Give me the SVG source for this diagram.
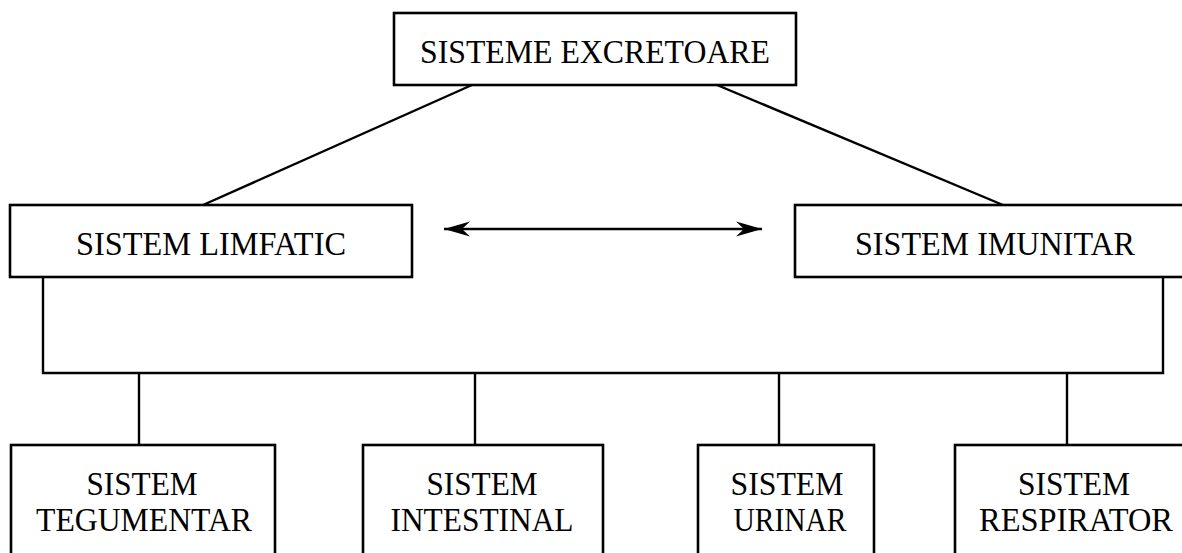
<svg xmlns="http://www.w3.org/2000/svg" width="1182" height="553" viewBox="0 0 1182 553">
  <style>
    .box { fill: #ffffff; stroke: #000000; stroke-width: 2.6; }
    .lbl { font-family: "Liberation Serif", "Times New Roman", serif; font-size: 33px; fill: #000000; text-anchor: middle; }
    .conn { stroke: #000000; stroke-width: 2.4; fill: none; }
  </style>
  <defs>
    <marker id="arrowEnd" viewBox="0 0 26 18" refX="26" refY="9" markerWidth="26" markerHeight="18" markerUnits="userSpaceOnUse" orient="auto">
      <path d="M0,1.5 L26,9 L0,16.5 L8,9 Z" fill="#000000"/>
    </marker>
    <marker id="arrowStart" viewBox="0 0 26 18" refX="0" refY="9" markerWidth="26" markerHeight="18" markerUnits="userSpaceOnUse" orient="auto">
      <path d="M26,1.5 L0,9 L26,16.5 L18,9 Z" fill="#000000"/>
    </marker>
  </defs>
  <rect width="1182" height="553" fill="#ffffff"/>

  <g id="connectors">
    <line class="conn" x1="472" y1="85" x2="203" y2="205"/>
    <line class="conn" x1="717" y1="85" x2="1003" y2="205"/>
    <line class="conn" x1="444" y1="229" x2="762" y2="229" marker-start="url(#arrowStart)" marker-end="url(#arrowEnd)"/>
    <polyline class="conn" points="43,277 43,373 1163,373 1163,277"/>
    <line class="conn" x1="139" y1="373" x2="139" y2="445"/>
    <line class="conn" x1="475" y1="373" x2="475" y2="445"/>
    <line class="conn" x1="779" y1="373" x2="779" y2="445"/>
    <line class="conn" x1="1067" y1="373" x2="1067" y2="445"/>
  </g>

  <g id="node-excretoare">
    <rect class="box" x="394" y="13" width="402" height="72"/>
    <text class="lbl" x="595" y="63" textLength="350" lengthAdjust="spacingAndGlyphs">SISTEME EXCRETOARE</text>
  </g>
  <g id="node-limfatic">
    <rect class="box" x="10" y="205" width="402" height="72"/>
    <text class="lbl" x="211" y="255" textLength="270" lengthAdjust="spacingAndGlyphs">SISTEM LIMFATIC</text>
  </g>
  <g id="node-imunitar">
    <rect class="box" x="795" y="205" width="402" height="72"/>
    <text class="lbl" x="995" y="255" textLength="280" lengthAdjust="spacingAndGlyphs">SISTEM IMUNITAR</text>
  </g>
  <g id="node-tegumentar">
    <rect class="box" x="11" y="445" width="264" height="120"/>
    <text class="lbl" x="142" y="495" textLength="111" lengthAdjust="spacingAndGlyphs">SISTEM</text>
    <text class="lbl" x="144" y="531" textLength="216" lengthAdjust="spacingAndGlyphs">TEGUMENTAR</text>
  </g>
  <g id="node-intestinal">
    <rect class="box" x="363" y="445" width="240" height="120"/>
    <text class="lbl" x="482" y="495" textLength="111" lengthAdjust="spacingAndGlyphs">SISTEM</text>
    <text class="lbl" x="482" y="531" textLength="183" lengthAdjust="spacingAndGlyphs">INTESTINAL</text>
  </g>
  <g id="node-urinar">
    <rect class="box" x="698" y="445" width="176" height="120"/>
    <text class="lbl" x="787" y="495" textLength="113" lengthAdjust="spacingAndGlyphs">SISTEM</text>
    <text class="lbl" x="790" y="531" textLength="113" lengthAdjust="spacingAndGlyphs">URINAR</text>
  </g>
  <g id="node-respirator">
    <rect class="box" x="955" y="445" width="242" height="120"/>
    <text class="lbl" x="1074" y="495" textLength="112" lengthAdjust="spacingAndGlyphs">SISTEM</text>
    <text class="lbl" x="1076" y="531" textLength="194" lengthAdjust="spacingAndGlyphs">RESPIRATOR</text>
  </g>
</svg>
